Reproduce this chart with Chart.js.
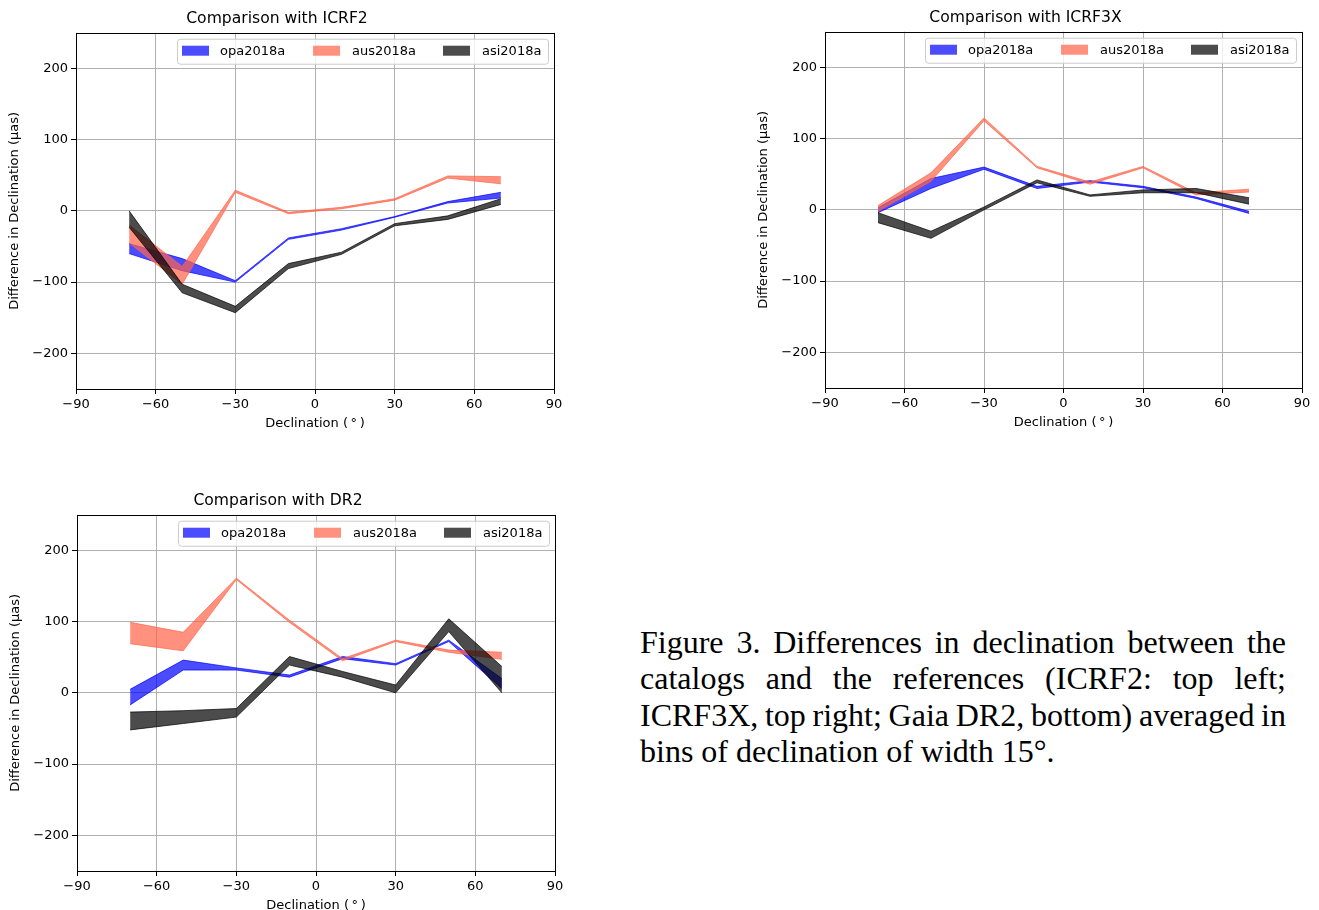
<!DOCTYPE html>
<html>
<head>
<meta charset="utf-8">
<script src="https://cdn.jsdelivr.net/npm/chart.js@4.4.0/dist/chart.umd.min.js"></script>
<style>
  html, body { margin: 0; padding: 0; background: #fff; }
  body { width: 1319px; height: 910px; position: relative; overflow: hidden; }
  .plot { position: absolute; }
  #caption {
    position: absolute; left: 640px; top: 624px; width: 646px;
    font-family: "Liberation Serif", "Times New Roman", serif;
    font-size: 32px; line-height: 36.3px; text-align: justify; color: #000;
    word-spacing: -2px;
  }
  #caption span { word-spacing: 0; }
</style>
</head>
<body>
<div class="plot" style="left:0px;top:0px;width:570px;height:440px;"><canvas id="c1"></canvas></div>
<div class="plot" style="left:749px;top:-1px;width:569px;height:440px;"><canvas id="c2"></canvas></div>
<div class="plot" style="left:1px;top:482px;width:570px;height:440px;"><canvas id="c3"></canvas></div>
<div id="caption">Figure 3. Differences in declination between the catalogs and the references (ICRF2: top left; ICRF3X, top right; Gaia DR2, bottom) averaged in <span>bins of declination of width 15°.</span></div>

<script>
// bin centres (declination, degrees)
var dec = [-70, -50, -30, -10, 10, 30, 50, 70];
var xTickValues = [-90, -60, -30, 0, 30, 60, 90];
var yTickValues = [-200, -100, 0, 100, 200];
var seriesNames = ['opa2018a', 'aus2018a', 'asi2018a'];

// ICRF2 (lower / upper edge of each band)
var icrf2OpaLo = [-60, -84, -100, -40, -27, -9, 11, 18];
var icrf2OpaHi = [-46, -67, -98, -38, -25, -8, 13, 26];
var icrf2AusLo = [-45, -103, 26, -4, 3, 15, 46, 38];
var icrf2AusHi = [-20, -78, 29, -2, 5, 17, 49, 48];
var icrf2AsiLo = [-23, -115, -143, -81, -61, -21, -12, 9];
var icrf2AsiHi = [0, -103, -134, -74, -58, -18, -7, 17];

// ICRF3X
var icrf3OpaLo = [-4, 30, 57, 30, 39, 31, 16, -5];
var icrf3OpaHi = [3, 44, 60, 33, 41, 33, 18, -2];
var icrf3AusLo = [-2, 40, 125, 59, 36, 59, 21, 25];
var icrf3AusHi = [6, 52, 129, 61, 39, 61, 24, 29];
var icrf3AsiLo = [-18, -40, 0, 38, 19, 24, 24, 8];
var icrf3AsiHi = [-4, -30, 4, 42, 21, 28, 30, 17];

// Gaia DR2
var dr2OpaLo = [-17, 32, 32, 22, 48, 39, 72, 6];
var dr2OpaHi = [5, 46, 35, 25, 51, 41, 74, 20];
var dr2AusLo = [69, 59, 159, 99, 45, 72, 57, 47];
var dr2AusHi = [99, 85, 161, 102, 48, 74, 60, 57];
var dr2AsiLo = [-52, -43, -34, 39, 22, 0, 86, 0];
var dr2AsiHi = [-27, -25, -22, 51, 30, 11, 104, 37];

var colors = ['rgba(0,0,255,0.7)', 'rgba(255,99,71,0.7)', 'rgba(0,0,0,0.7)'];

Chart.defaults.color = '#000';
Chart.defaults.font.family = '"DejaVu Sans", sans-serif';

var minus = function(v) { return String(v).replace('-', '\u2212'); };

var toPoints = function(ys) {
    return dec.map(function(d, i) { return {x: d, y: ys[i]}; });
};

var makeBands = function(bands) {
    var datasets = [];
    bands.forEach(function(b, k) {
        datasets.push({
            label: seriesNames[k],
            data: toPoints(b[1]),
            borderColor: colors[k],
            backgroundColor: colors[k],
            borderWidth: 1,
            pointRadius: 0,
            fill: '+1',
            order: 3 - k
        });
        datasets.push({
            label: seriesNames[k] + ' lo',
            data: toPoints(b[0]),
            borderColor: colors[k],
            backgroundColor: colors[k],
            borderWidth: 1,
            pointRadius: 0,
            fill: false,
            order: 3 - k
        });
    });
    return datasets;
};

// spines and matplotlib-style legend box
var framePlugin = {
    id: 'frame',
    afterDraw: function(chart) {
        var ctx = chart.ctx, a = chart.chartArea;
        ctx.save();
        // legend
        var bw = 371, bh = 25;
        var bx = a.right - 6 - bw, by = a.top + 6;
        ctx.beginPath();
        ctx.roundRect(bx + 0.5, by + 0.5, bw, bh, 3);
        ctx.fillStyle = 'rgba(255,255,255,0.8)';
        ctx.fill();
        ctx.strokeStyle = '#cccccc';
        ctx.lineWidth = 1;
        ctx.stroke();
        var patchX = [5, 136, 266], textX = [43, 175, 305];
        ctx.font = '13px "DejaVu Sans"';
        ctx.textBaseline = 'middle';
        for (var i = 0; i < 3; i++) {
            ctx.fillStyle = colors[i];
            ctx.fillRect(bx + patchX[i], by + 7, 27, 10);
            ctx.fillStyle = '#000';
            ctx.fillText(seriesNames[i], bx + textX[i], by + 12.5);
        }
        // spines
        ctx.strokeStyle = '#000';
        ctx.lineWidth = 1;
        ctx.strokeRect(Math.round(a.left) + 0.5, Math.round(a.top) + 0.5,
            Math.round(a.right - a.left), Math.round(a.bottom - a.top));
        ctx.restore();
    }
};

var makeChart = function(id, title, bands) {
    return new Chart(document.getElementById(id), {
        type: 'line',
        data: { datasets: makeBands(bands) },
        plugins: [framePlugin],
        options: {
            responsive: true,
            maintainAspectRatio: false,
            animation: false,
            layout: { padding: { left: 0, right: 16, top: 0, bottom: 0 } },
            plugins: {
                legend: { display: false },
                tooltip: { enabled: false },
                title: {
                    display: true,
                    text: title,
                    font: { size: 15.6, weight: 'normal' },
                    padding: { top: 10, bottom: 4 }
                }
            },
            scales: {
                x: {
                    type: 'linear',
                    min: -90,
                    max: 90,
                    afterBuildTicks: function(s) { s.ticks = xTickValues.map(function(v) { return {value: v}; }); },
                    afterFit: function(s) { s.height = 51; },
                    ticks: { font: { size: 13 }, padding: 3, callback: minus, maxRotation: 0 },
                    grid: { color: '#b0b0b0', tickColor: '#000', tickLength: 5 },
                    border: { display: false },
                    title: { display: true, text: 'Declination (\u2009°\u2009)', font: { size: 13 }, padding: { top: 2, bottom: 9 } }
                },
                y: {
                    min: -250,
                    max: 250,
                    afterBuildTicks: function(s) { s.ticks = yTickValues.map(function(v) { return {value: v}; }); },
                    afterFit: function(s) { s.width = 76; },
                    ticks: { font: { size: 13 }, padding: 3, callback: minus },
                    grid: { color: '#b0b0b0', tickColor: '#000', tickLength: 5 },
                    border: { display: false },
                    title: { display: true, text: 'Difference in Declination (μas)', font: { size: 13 }, padding: { top: 7, bottom: 2 } }
                }
            }
        }
    });
};

makeChart('c1', 'Comparison with ICRF2',
    [[icrf2OpaLo, icrf2OpaHi], [icrf2AusLo, icrf2AusHi], [icrf2AsiLo, icrf2AsiHi]]);
makeChart('c2', 'Comparison with ICRF3X',
    [[icrf3OpaLo, icrf3OpaHi], [icrf3AusLo, icrf3AusHi], [icrf3AsiLo, icrf3AsiHi]]);
makeChart('c3', 'Comparison with DR2',
    [[dr2OpaLo, dr2OpaHi], [dr2AusLo, dr2AusHi], [dr2AsiLo, dr2AsiHi]]);
</script>
</body>
</html>
